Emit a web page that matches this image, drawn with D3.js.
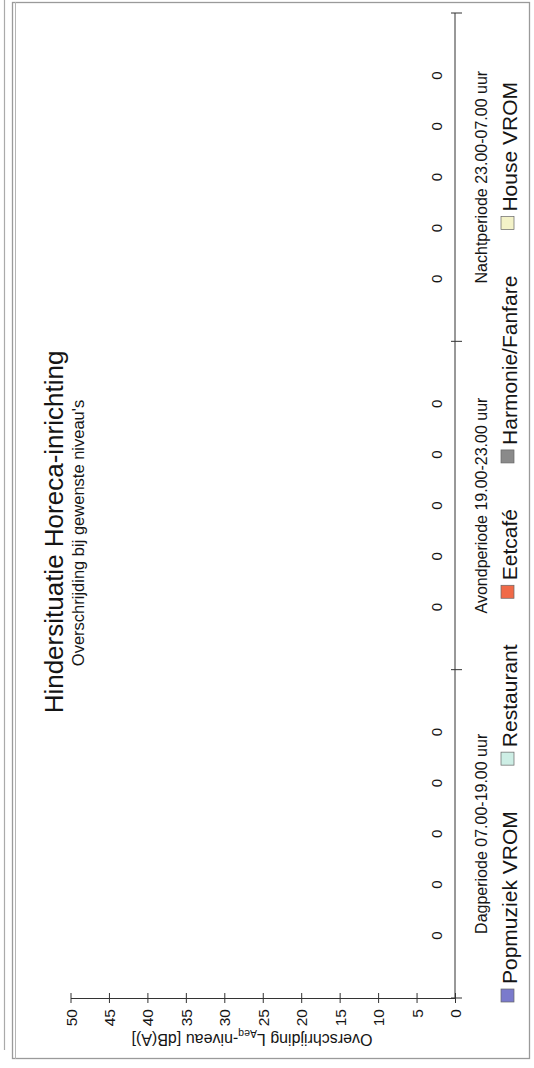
<!DOCTYPE html>
<html>
<head>
<meta charset="utf-8">
<script src="https://cdn.jsdelivr.net/npm/d3@7"></script>
<style>
  html, body { margin: 0; padding: 0; background: #fff; }
  svg { display: block; font-family: "Liberation Sans", Arial, sans-serif; }
</style>
</head>
<body>
<svg id="chart" width="534" height="1068"></svg>
<script>
// ---- data ----
const groups = ["Dagperiode 07.00-19.00 uur", "Avondperiode 19.00-23.00 uur", "Nachtperiode 23.00-07.00 uur"];
const seriesNames = ["Popmuziek VROM", "Restaurant", "Eetcafé", "Harmonie/Fanfare", "House VROM"];
const popmuziekVROM = [0, 0, 0];
const restaurant = [0, 0, 0];
const eetcafe = [0, 0, 0];
const harmonieFanfare = [0, 0, 0];
const houseVROM = [0, 0, 0];
const valueTicks = [0, 5, 10, 15, 20, 25, 30, 35, 40, 45, 50];
const titleText = "Hindersituatie Horeca-inrichting";
const subtitleText = "Overschrijding bij gewenste niveau's";

// ---- styles ----
const seriesColors = ["#7a7acc", "#cdeee5", "#f06a48", "#8a8a8a", "#f3f2c8"];
const ink = "#151515";

const seriesValues = [popmuziekVROM, restaurant, eetcafe, harmonieFanfare, houseVROM];
const rows = [];
groups.forEach((g, gi) => seriesNames.forEach((s, si) => rows.push({ group: g, series: s, si, value: seriesValues[si][gi] })));

const svg = d3.select("#chart");

// page frame (scanned page)
svg.append("line").attr("x1", 4.5).attr("x2", 4.5).attr("y1", 0).attr("y2", 1050).attr("stroke", "#aaa").attr("stroke-width", 1.2);
svg.append("rect").attr("x", 12.5).attr("y", 2.5).attr("width", 517).attr("height", 1056)
  .attr("fill", "none").attr("stroke", "#9a9a9a").attr("stroke-width", 1.3);
svg.append("line").attr("x1", 15.5).attr("x2", 15.5).attr("y1", 2).attr("y2", 1059).attr("stroke", "#b5b5b5").attr("stroke-width", 1);

// ---- scales (chart is rotated 90° counter-clockwise) ----
const x = d3.scaleLinear().domain([0, 50]).range([455, 70.5]);
const y0 = d3.scaleBand().domain(groups).range([998, 13]).padding(0);
const y1 = d3.scalePoint().domain(seriesNames).range([y0.bandwidth(), 0]).padding(1.23);

// bars
const barH = 30;
svg.append("g").selectAll("rect").data(rows).join("rect")
  .attr("x", d => x(d.value))
  .attr("width", d => x(0) - x(d.value))
  .attr("y", d => y0(d.group) + y1(d.series) - barH / 2)
  .attr("height", barH)
  .attr("fill", d => seriesColors[d.si])
  .attr("stroke", "#444").attr("stroke-width", d => d.value > 0 ? 0.6 : 0);

// data labels
svg.append("g").selectAll("text").data(rows).join("text")
  .attr("transform", d => `translate(${x(d.value) - 13},${y0(d.group) + y1(d.series)}) rotate(-90)`)
  .attr("text-anchor", "middle")
  .attr("font-size", 15).attr("fill", ink)
  .text(d => d.value);

// value axis (horizontal at bottom)
const axisY = 998;
const vAxis = svg.append("g").attr("transform", `translate(0,${axisY})`)
  .call(d3.axisBottom(x).tickValues(valueTicks).tickSizeOuter(0).tickSizeInner(5));
vAxis.select(".domain").attr("stroke", "#333");
vAxis.selectAll(".tick line").attr("y1", -5).attr("y2", 5).attr("stroke", "#333");
vAxis.selectAll(".tick text")
  .attr("transform", "rotate(-90)")
  .attr("text-anchor", "end")
  .attr("x", -11).attr("y", 0).attr("dy", "0.36em")
  .attr("font-size", 15.5).attr("font-family", "Liberation Sans, Arial, sans-serif").attr("fill", ink);

// value axis title (rotated 180°)
const at = svg.append("text")
  .attr("transform", "translate(252,1034) rotate(180)")
  .attr("text-anchor", "middle")
  .attr("font-size", 16).attr("fill", ink);
at.append("tspan").text("Overschrijding L");
at.append("tspan").attr("font-size", 10.5).attr("dy", 4).text("Aeq");
at.append("tspan").attr("dy", -4).text("-niveau [dB(A)]");

// category axis (vertical line)
const cAxisX = x(0);
svg.append("line").attr("x1", cAxisX).attr("x2", cAxisX).attr("y1", y0.range()[1]).attr("y2", y0.range()[0])
  .attr("stroke", "#333").attr("stroke-width", 1);
const bounds = groups.map(g => y0(g)).concat([y0(groups[0]) + y0.bandwidth()]);
svg.append("g").selectAll("line").data(bounds).join("line")
  .attr("x1", cAxisX - 4).attr("x2", cAxisX + 7).attr("y1", d => d).attr("y2", d => d)
  .attr("stroke", "#333");

// category labels
svg.append("g").selectAll("text").data(groups).join("text")
  .attr("transform", g => `translate(487,${y0(g) + y0.bandwidth() / 2}) rotate(-90)`)
  .attr("text-anchor", "middle")
  .attr("font-size", 16).attr("fill", ink)
  .text(g => g);

// title & subtitle
svg.append("text").attr("transform", "translate(63,532) rotate(-90)")
  .attr("text-anchor", "middle").attr("font-size", 26).attr("fill", ink).text(titleText);
svg.append("text").attr("transform", "translate(84,533) rotate(-90)")
  .attr("text-anchor", "middle").attr("font-size", 16.5).attr("fill", ink).text(subtitleText);

// legend
const legendG = svg.append("g");
const legFont = 21, sw = 13, swGap = 5;
const widths = seriesNames.map(s => {
  const t = legendG.append("text").attr("font-size", legFont).text(s);
  const w = t.node().getComputedTextLength(); t.remove(); return w;
});
const legStart = 1002, legEnd = 82;
const total = d3.sum(widths) + seriesNames.length * (sw + swGap);
const gap = (legStart - legEnd - total) / (seriesNames.length - 1);
let cursor = legStart;
seriesNames.forEach((s, i) => {
  legendG.append("rect").attr("x", 501).attr("y", cursor - sw).attr("width", sw).attr("height", sw)
    .attr("fill", seriesColors[i]).attr("stroke", "#666").attr("stroke-width", 0.7);
  legendG.append("text").attr("transform", `translate(517,${cursor - sw - swGap}) rotate(-90)`)
    .attr("font-size", legFont).attr("fill", ink).text(s);
  cursor -= sw + swGap + widths[i] + gap;
});
</script>
</body>
</html>
